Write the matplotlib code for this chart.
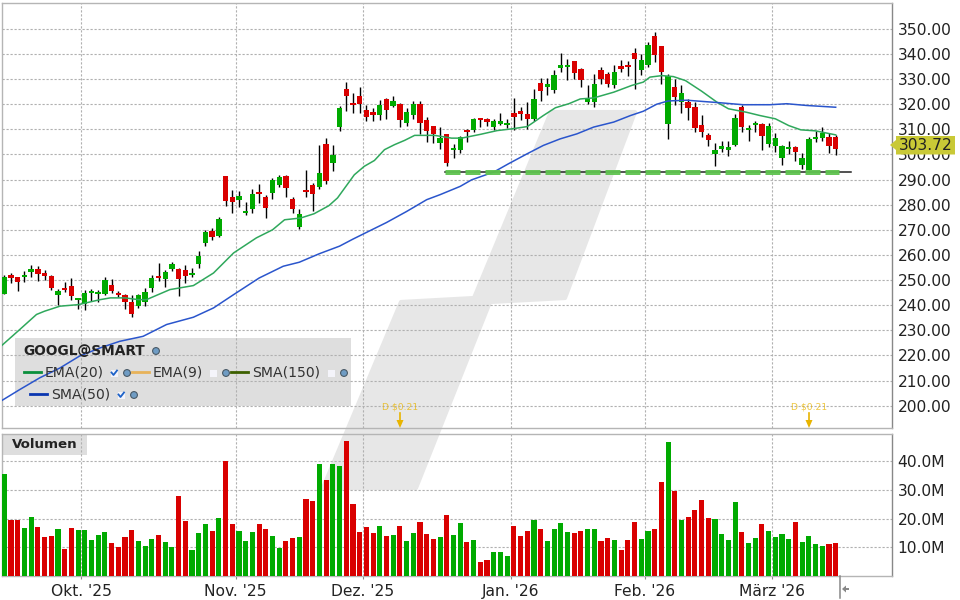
import matplotlib
matplotlib.use("Agg")
import matplotlib.pyplot as plt
from matplotlib.patches import Polygon, Rectangle, Circle

# candles, one row per trading day
opens = [244.4, 251.9, 251.1, 251.1, 253.1, 254.3, 252.7, 251.5, 244.0, 246.8,
         247.6, 242.0, 240.4, 244.8, 244.4, 244.4, 248.0, 244.8, 244.0, 241.2,
         239.6, 241.2, 246.8, 251.5, 250.3, 254.3, 254.3, 253.9, 251.9, 256.3,
         264.7, 269.4, 267.5, 291.5, 283.0, 281.8, 276.8, 278.4, 285.2, 283.2,
         284.8, 288.0, 291.5, 282.4, 271.2, 286.0, 288.0, 287.2, 304.3, 296.7,
         311.0, 326.2, 320.6, 323.4, 317.8, 317.0, 315.8, 322.2, 319.4, 320.2,
         312.6, 315.8, 320.2, 313.8, 311.4, 304.6, 308.2, 301.7, 301.7, 309.6,
         309.6, 314.7, 314.3, 311.1, 312.3, 311.9, 316.7, 317.5, 316.3, 314.3,
         328.6, 327.0, 325.5, 334.6, 335.0, 337.4, 334.2, 320.7, 320.7, 333.8,
         332.2, 327.5, 335.4, 335.8, 340.2, 333.8, 335.8, 347.3, 343.0, 312.3,
         327.0, 320.7, 320.7, 318.7, 311.9, 307.6, 300.0, 302.0, 301.6, 303.6,
         318.7, 309.9, 311.9, 312.3, 304.0, 303.2, 298.4, 302.0, 302.8, 296.0,
         294.0, 306.0, 306.4, 306.8, 306.8]
highs = [251.9, 252.7, 251.1, 253.5, 255.9, 255.5, 253.9, 251.9, 246.4, 249.1,
         250.7, 242.8, 246.0, 246.4, 246.0, 251.1, 250.3, 245.6, 244.4, 244.0,
         244.4, 246.8, 251.9, 256.7, 253.9, 257.1, 254.7, 255.9, 254.7, 261.5,
         269.8, 270.6, 275.0, 291.5, 285.8, 285.4, 281.2, 286.4, 288.4, 284.0,
         290.7, 291.9, 291.9, 283.2, 278.4, 293.9, 288.8, 303.9, 306.7, 303.9,
         319.4, 328.9, 324.6, 327.0, 319.8, 318.6, 321.8, 322.6, 323.4, 320.6,
         318.6, 321.4, 321.4, 315.0, 311.4, 311.0, 308.3, 304.0, 307.2, 310.0,
         314.7, 314.7, 314.7, 314.3, 316.7, 314.3, 322.3, 318.7, 320.7, 325.9,
         330.6, 330.6, 333.8, 340.2, 338.2, 337.4, 334.6, 327.5, 332.2, 335.0,
         333.0, 335.8, 337.8, 337.4, 342.2, 339.8, 344.6, 348.9, 343.0, 332.2,
         330.2, 327.5, 321.9, 320.7, 315.9, 308.4, 304.4, 305.2, 305.2, 316.3,
         319.5, 311.9, 313.5, 312.7, 312.7, 308.4, 303.6, 305.2, 303.2, 300.4,
         306.8, 309.2, 311.1, 308.4, 307.6]
lows = [244.4, 248.8, 245.6, 249.1, 251.1, 249.5, 250.0, 246.0, 240.0, 245.2,
        242.0, 238.4, 238.0, 241.6, 241.2, 244.0, 244.8, 243.2, 238.4, 235.2,
        238.8, 239.6, 245.2, 249.5, 247.2, 253.5, 243.6, 248.8, 251.1, 254.7,
        263.5, 265.9, 267.0, 279.4, 276.6, 279.0, 276.0, 276.8, 280.8, 274.8,
        282.4, 287.2, 283.2, 276.8, 270.4, 283.2, 277.6, 286.4, 288.4, 293.5,
        309.4, 317.4, 316.6, 316.6, 313.4, 313.4, 313.8, 314.2, 319.0, 311.0,
        311.4, 314.2, 308.2, 305.0, 304.7, 302.3, 295.6, 298.5, 300.4, 304.8,
        308.8, 311.1, 311.5, 309.6, 311.9, 310.7, 309.6, 313.9, 310.3, 313.5,
        321.1, 323.5, 324.3, 333.0, 329.8, 330.2, 327.0, 319.9, 318.7, 328.2,
        326.7, 326.3, 333.0, 331.4, 325.9, 331.8, 335.0, 337.0, 327.9, 306.0,
        319.5, 316.7, 313.9, 309.1, 306.8, 303.2, 295.6, 300.8, 299.2, 303.2,
        309.1, 305.2, 308.8, 301.6, 302.8, 300.8, 296.0, 300.0, 297.2, 294.4,
        293.6, 304.8, 305.2, 300.4, 299.6]
closes = [251.1, 250.7, 249.1, 251.9, 254.3, 252.3, 251.5, 246.8, 245.6, 246.0,
          243.6, 242.8, 244.8, 245.6, 245.2, 250.0, 245.6, 244.0, 241.2, 236.4,
          244.0, 245.2, 250.7, 250.7, 253.1, 256.3, 250.3, 251.5, 252.7, 259.5,
          269.0, 267.0, 274.2, 281.6, 281.0, 283.4, 277.6, 284.4, 284.4, 278.8,
          290.0, 291.1, 286.8, 278.4, 276.4, 285.2, 284.4, 292.7, 289.5, 299.9,
          318.6, 323.4, 319.8, 320.2, 315.0, 315.8, 319.8, 317.8, 321.4, 313.8,
          317.0, 320.2, 312.6, 309.4, 308.2, 306.5, 296.6, 302.5, 306.9, 308.8,
          314.3, 313.9, 313.1, 313.5, 313.5, 312.7, 315.1, 316.3, 314.3, 321.9,
          325.1, 328.2, 331.8, 335.8, 335.8, 332.6, 329.8, 322.3, 328.2, 330.2,
          327.9, 333.0, 334.2, 335.0, 338.2, 337.8, 343.4, 339.4, 333.0, 331.4,
          322.7, 324.3, 318.3, 310.7, 308.8, 305.6, 301.6, 303.2, 302.8, 314.7,
          311.1, 310.7, 312.7, 307.2, 311.5, 306.4, 303.2, 302.8, 300.8, 298.4,
          306.0, 306.8, 308.4, 303.2, 302.0]

# volume in millions, 1 = green bar
volumes = [35.6, 19.5, 19.5, 16.7, 20.6, 17.1, 13.6, 14.0, 16.4, 9.4,
           16.7, 16.0, 16.0, 12.6, 14.3, 15.3, 11.5, 10.1, 13.6, 16.0,
           12.2, 10.5, 12.9, 14.3, 11.9, 10.1, 27.9, 19.2, 9.1, 15.0,
           18.1, 15.7, 20.2, 40.1, 18.1, 15.7, 12.2, 15.3, 18.1, 16.4,
           14.0, 9.8, 12.2, 13.3, 13.6, 26.9, 26.2, 39.1, 33.5, 39.1,
           38.4, 47.1, 25.1, 15.3, 17.1, 15.0, 17.4, 14.0, 14.3, 17.4,
           12.2, 15.0, 18.8, 14.7, 12.9, 13.6, 21.3, 14.3, 18.5, 11.9,
           12.6, 4.9, 5.6, 8.4, 8.4, 7.0, 17.4, 14.0, 15.7, 19.5,
           16.4, 12.2, 16.4, 18.5, 15.3, 15.0, 15.7, 16.4, 16.4, 12.2,
           13.3, 12.6, 9.1, 12.6, 18.8, 12.9, 15.7, 16.4, 32.8, 46.7,
           29.7, 19.5, 20.6, 23.0, 26.5, 20.2, 19.9, 14.7, 12.6, 25.8,
           15.3, 11.5, 13.3, 18.1, 15.7, 13.6, 14.7, 12.9, 18.8, 11.9,
           14.0, 11.2, 10.5, 11.2, 11.5]
volume_up = [1, 0, 0, 1, 1, 0, 0, 0, 1, 0,
             0, 1, 1, 1, 1, 1, 0, 0, 0, 0,
             1, 1, 1, 0, 1, 1, 0, 0, 1, 1,
             1, 0, 1, 0, 0, 1, 1, 1, 0, 0,
             1, 1, 0, 0, 1, 0, 0, 1, 0, 1,
             1, 0, 0, 0, 0, 0, 1, 0, 1, 0,
             1, 1, 0, 0, 0, 1, 0, 1, 1, 0,
             1, 0, 0, 1, 1, 1, 0, 0, 0, 1,
             0, 1, 1, 1, 1, 0, 0, 1, 1, 0,
             0, 1, 0, 0, 0, 1, 1, 0, 0, 1,
             0, 1, 0, 0, 0, 0, 1, 1, 1, 1,
             0, 1, 1, 0, 1, 1, 1, 1, 0, 1,
             1, 1, 1, 0, 0]

# moving averages (bar position, price)
ema_x = [-0.4, 2.3, 4.8, 6, 8.3, 11, 14.3, 15.8, 18, 20, 21.2, 24.7, 28.2, 31.2, 34.2, 37.6,
         40, 41.8, 44.2, 46.2, 48.4, 49.7, 52.2, 53.7, 55.2, 56.7, 58.2, 59.7, 61.2, 64.2, 66.7,
         68.2, 71, 73.5, 75.7, 78, 80.4, 82.2, 84.2, 85.9, 87.9, 90.9, 93.6, 95.3, 96.3, 98.1, 99.8,
         101.6, 104, 106.3, 108, 110.7, 112.7, 115, 117, 118.8, 121, 124]
ema_y = [223.9, 230.3, 236.3, 237.6, 239.6, 240.2, 242.2, 242.9, 242.9, 242.2, 242.2, 246.2, 247.8, 252.8, 260.8, 266.8,
         270.0, 274.0, 274.7, 276.4, 279.6, 282.7, 291.9, 295.3, 297.6, 301.9, 303.9, 305.6, 307.6, 307.6, 306.5,
         306.5, 308.0, 309.5, 310.2, 311.1, 315.5, 318.6, 320.2, 322.1, 322.5, 324.8, 327.5, 328.8, 330.8, 331.4, 331.0,
         329.4, 325.2, 320.8, 318.2, 316.8, 315.5, 314.2, 311.5, 309.8, 309.4, 307.8]
sma50_x = [-0.4, 2.3, 5.3, 8.3, 11.2, 14.3, 17.2, 20.7, 24.2, 28.2, 31.2, 34.2, 38, 41.6, 44, 47,
           50, 52, 54.8, 57, 60, 63, 65, 68, 69.7, 73, 75.2, 78, 80.4, 82.9, 85.4, 87.9, 90.9, 93.4, 95.3, 97.3, 99,
           101.8, 104.2, 106.7, 110.2, 114.2, 116.7, 119.7, 124]
sma50_y = [202.0, 206.4, 211.1, 215.0, 219.7, 223.0, 225.6, 227.6, 232.3, 235.2, 238.9, 244.2, 250.8, 255.5, 257.1, 260.5,
           263.5, 266.3, 270.0, 272.9, 277.3, 282.0, 284.0, 287.3, 289.9, 293.0, 296.3, 300.3, 303.6, 306.2, 308.2, 310.9, 312.9, 315.5, 317.2, 320.0, 321.3,
           321.6, 321.1, 320.6, 319.8, 319.8, 320.2, 319.5, 318.8]

support_x = [65.7, 126.3]
support_y = [293.1, 293.1]
green_stop = 124.5

price_ticks = [200, 210, 220, 230, 240, 250, 260, 270, 280, 290, 300, 310, 320, 330, 340, 350]
volume_ticks = [10, 20, 30, 40]
month_pos = [11.5, 34.5, 53.5, 75.5, 95.5, 114.5]
month_names = ["Okt. '25", "Nov. '25", "Dez. '25", "Jan. '26", "Feb. '26", "März '26"]
div_text = ["D $0.21", "D $0.21"]
div_px = [400, 809]
last_price = "303.72"

GREEN = "#00aa00"
RED = "#d90000"
GRID = "#b0b0b0"
FRAME = "#b5b5b5"
W, H = 960, 600


def px_rect(left, top, right, bottom):
    return [left / W, 1 - bottom / H, (right - left) / W, (bottom - top) / H]


def legend_globe(ax, x, y):
    ax.add_patch(Circle((x, y), 3.4, fc="#6f9cc4", ec="#4a5a66", lw=0.8, zorder=6))


def legend_check(ax, x, y, ticked):
    ax.add_patch(Rectangle((x - 3, y - 3), 6.5, 6.5, fc="#f4f4fa", ec="none", zorder=6))
    if ticked:
        ax.plot([x - 2.5, x - 0.5, x + 3], [y - 0.5, y + 2, y - 2.5], color="#1d62c8", lw=1.3, zorder=7)


fig = plt.figure(figsize=(9.6, 6), dpi=100, facecolor="white")

# full size axes in pixels, behind everything: logo and grey legend boxes
back = fig.add_axes([0, 0, 1, 1], zorder=0)
back.set_xlim(0, W)
back.set_ylim(H, 0)
back.axis("off")
logo = [(551, 112), (635, 112), (565, 298), (490, 302), (416, 488), (323, 488), (401, 302), (474, 298)]
back.add_patch(Polygon(logo, closed=True, fc="#e7e7e7", ec="#e7e7e7", lw=3, joinstyle="round"))
back.add_patch(Rectangle((15, 338), 336, 68, fc="#dedede", ec="none"))
back.add_patch(Rectangle((3, 435), 84, 20, fc="#dedede", ec="none"))

ax = fig.add_axes(px_rect(1.5, 2.5, 892, 428), zorder=2)
vol = fig.add_axes(px_rect(1.5, 433.5, 892, 576), zorder=2)
for a in (ax, vol):
    a.patch.set_alpha(0)
    a.set_xlim(-0.42, 132.4)
    a.yaxis.tick_right()
    a.set_xticks(month_pos)
    a.grid(True, color=GRID, linestyle=(0, (2, 1.6)), linewidth=0.8)
    a.set_axisbelow(True)
    for s in a.spines.values():
        s.set_color(FRAME)
        s.set_linewidth(1.0)
    a.spines["right"].set_color("#888888")
    a.tick_params(axis="y", length=0, pad=4, labelsize=11.2, labelcolor="#222222")

ax.set_ylim(191.1, 360.5)
ax.set_yticks(price_ticks)
ax.set_yticklabels(["%.2f" % p for p in price_ticks])
ax.tick_params(axis="x", length=0, labelbottom=False)

# candles
xs = list(range(len(opens)))
ax.vlines(xs, lows, highs, color="black", linewidth=1.0, zorder=3)
heights = [abs(c - o) for o, c in zip(opens, closes)]
bottoms = [min(o, c) for o, c in zip(opens, closes)]
colors = [GREEN if c >= o else RED for o, c in zip(opens, closes)]
ax.bar(xs, heights, bottom=bottoms, width=0.8, color=colors, linewidth=0, zorder=4)

ax.plot(ema_x, ema_y, color="#2fa85c", linewidth=1.1, zorder=5)
ax.plot(sma50_x, sma50_y, color="#2a55cc", linewidth=1.1, zorder=5)

# support line
ax.plot(support_x, support_y, color="#222222", linewidth=1.1, zorder=5)
ax.plot([support_x[0], green_stop], support_y, color="#5fc34f", linewidth=3.6,
        linestyle=(0, (3.0, 1.0)), solid_capstyle="butt", zorder=6, alpha=0.95)

# volume panel
vol.set_ylim(0, 49.7)
vol.set_yticks(volume_ticks)
vol.set_yticklabels(["%.1fM" % v for v in volume_ticks])
vol.bar(xs, volumes, width=0.76, color=[GREEN if u else RED for u in volume_up], linewidth=0, zorder=3)
vol.set_xticklabels(month_names)
vol.tick_params(axis="x", length=2, width=0.8, color="#888888", pad=3.5, labelsize=11.2, labelcolor="#222222")

# texts and small items on top, in pixels
top = fig.add_axes([0, 0, 1, 1], zorder=5)
top.set_xlim(0, W)
top.set_ylim(H, 0)
top.axis("off")
top.patch.set_alpha(0)

top.text(23, 351, "GOOGL@SMART", fontsize=9.9, fontweight="bold", va="center", color="#222222")
legend_globe(top, 156, 351)
top.text(12, 445, "Volumen", fontsize=9.6, fontweight="bold", va="center", color="#222222")

top.plot([24, 41], [372, 372], color="#0a8f3c", lw=2)
top.text(45, 372.5, "EMA(20)", fontsize=10.1, va="center", color="#333333")
legend_check(top, 114, 373, True)
legend_globe(top, 127, 373)
top.plot([132, 149], [372, 372], color="#e8b35a", lw=2)
top.text(153, 372.5, "EMA(9)", fontsize=10.1, va="center", color="#333333")
legend_check(top, 213, 373, False)
legend_globe(top, 226, 373)
top.plot([231, 248], [372, 372], color="#3d6000", lw=2)
top.text(252, 372.5, "SMA(150)", fontsize=10.1, va="center", color="#333333")
legend_check(top, 331, 373, False)
legend_globe(top, 344, 373)
top.plot([30, 47], [394, 394], color="#0a36b0", lw=2)
top.text(51, 394.5, "SMA(50)", fontsize=10.1, va="center", color="#333333")
legend_check(top, 121, 395, True)
legend_globe(top, 134, 395)

# dividend marks
for label, x in zip(div_text, div_px):
    top.text(x, 407, label, fontsize=6.6, ha="center", va="center", color="#e8b400", alpha=0.75)
    top.plot([x, x], [413, 424], color="#e8b400", lw=1.2)
    top.add_patch(Polygon([(x - 3.5, 420), (x + 3.5, 420), (x, 428)], closed=True, fc="#e8b400", ec="none"))

# last price tag
top.add_patch(Polygon([(890, 145), (896, 140), (896, 136), (955, 136), (955, 154.5), (896, 154.5), (896, 150)],
                      closed=True, fc="#c9c936", ec="none"))
top.text(925.5, 146, last_price, fontsize=11.2, ha="center", va="center", color="#222222")

# marker under the last bar
top.plot([839.5, 839.5], [576, 598], color="#888888", lw=1.1)
top.add_patch(Polygon([(842, 589), (846, 585.5), (846, 592.5)], closed=True, fc="#888888", ec="none"))
top.add_patch(Rectangle((846, 587.8), 2.5, 2.4, fc="#888888", ec="none"))

fig.savefig("out.png", dpi=100)
